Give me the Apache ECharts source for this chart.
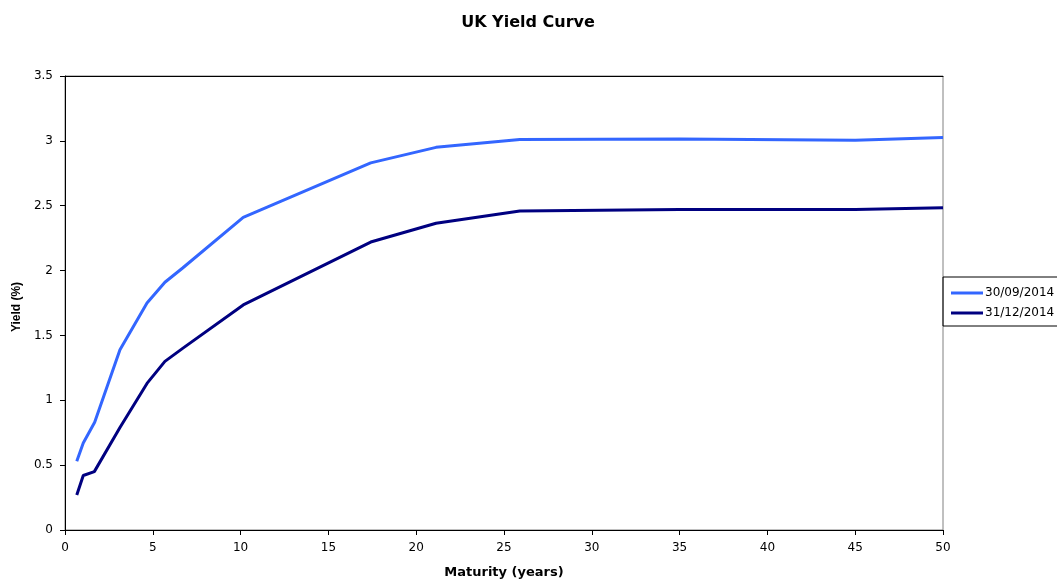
<!DOCTYPE html>
<html>
<head>
<meta charset="utf-8">
<script src="https://cdn.jsdelivr.net/npm/echarts@6/dist/echarts.min.js"></script>
<style>
  html, body { margin: 0; padding: 0; background: #fff; }
  #chart { width: 1057px; height: 581px; }
</style>
</head>
<body>
<div id="chart"></div>
<script>
// Maturities (years) and yields (%) for the two curve dates
const maturitySep = [0.67, 1.04, 1.69, 3.13, 4.67, 5.69, 6.7, 10.15, 17.41, 21.13, 25.9, 35, 45, 50];
const yieldSep    = [0.53, 0.67, 0.83, 1.39, 1.75, 1.91, 2.02, 2.41, 2.83, 2.95, 3.01, 3.015, 3.005, 3.025];

const maturityDec = [0.67, 1.04, 1.67, 3.13, 4.67, 5.69, 6.7, 10.15, 17.41, 21.13, 25.9, 35, 45, 50];
const yieldDec    = [0.27, 0.42, 0.45, 0.79, 1.13, 1.30, 1.40, 1.735, 2.22, 2.365, 2.46, 2.47, 2.47, 2.485];

const seriesNames = ['30/09/2014', '31/12/2014'];
const seriesColors = ['#3366FF', '#000080'];

const pairs = (xs, ys) => xs.map((x, i) => [x, ys[i]]);

const chart = echarts.init(document.getElementById('chart'));
const font = 'DejaVu Sans, Liberation Sans, Arial, sans-serif';
const narrowFont = 'Liberation Sans, Arial, sans-serif';

chart.setOption({
  animation: false,
  backgroundColor: '#fff',
  title: {
    text: 'UK Yield Curve',
    left: 523,
    textAlign: 'center',
    top: 10,
    textStyle: { fontFamily: font, fontSize: 16, fontWeight: 'bold', color: '#000' }
  },
  legend: {
    data: seriesNames,
    orient: 'vertical',
    left: 943,
    top: 277,
    icon: 'rect',
    itemWidth: 32,
    itemHeight: 3,
    itemGap: 8,
    padding: [10, 20, 7, 8],
    borderColor: '#000',
    borderWidth: 1,
    textStyle: { fontFamily: font, fontSize: 12, color: '#000', padding: [0, 0, 0, -3] }
  },
  grid: {
    left: 65, right: 114, top: 76, bottom: 51,
    outerBoundsMode: 'none',
    containLabel: false,
    show: true, borderColor: '#808080', borderWidth: 1
  },
  xAxis: [
    {
      type: 'value',
      min: 0, max: 50, interval: 5,
      name: 'Maturity (years)',
      nameLocation: 'middle',
      nameGap: 36,
      nameTextStyle: { fontFamily: font, fontSize: 13, fontWeight: 'bold', color: '#000' },
      axisLine: { show: true, lineStyle: { color: '#000', width: 1 } },
      axisTick: { show: true, length: 5, lineStyle: { color: '#000' } },
      axisLabel: { fontFamily: font, fontSize: 12, color: '#000', margin: 12 },
      splitLine: { show: false }
    },
    {
      // top frame edge of the plot area
      type: 'value',
      position: 'top',
      min: 0, max: 50,
      axisLine: { show: true, lineStyle: { color: '#000', width: 1 } },
      axisTick: { show: false },
      axisLabel: { show: false },
      splitLine: { show: false }
    }
  ],
  yAxis: {
    type: 'value',
    min: 0, max: 3.5, interval: 0.5,
    name: 'Yield (%)',
    nameLocation: 'middle',
    nameRotate: 90,
    nameGap: 42,
    nameTextStyle: {
      fontFamily: narrowFont, fontSize: 12, fontWeight: 'bold', color: '#000',
      padding: [0, 8, 0, 0]
    },
    axisLine: { show: true, lineStyle: { color: '#000', width: 1 } },
    axisTick: { show: true, length: 5, lineStyle: { color: '#000' } },
    axisLabel: { fontFamily: font, fontSize: 12, color: '#000', margin: 12 },
    splitLine: { show: false }
  },
  series: [
    {
      name: seriesNames[0],
      type: 'line',
      data: pairs(maturitySep, yieldSep),
      showSymbol: false,
      symbol: 'none',
      lineStyle: { color: seriesColors[0], width: 3 },
      itemStyle: { color: seriesColors[0] }
    },
    {
      name: seriesNames[1],
      type: 'line',
      data: pairs(maturityDec, yieldDec),
      showSymbol: false,
      symbol: 'none',
      lineStyle: { color: seriesColors[1], width: 3 },
      itemStyle: { color: seriesColors[1] }
    }
  ]
});
</script>
</body>
</html>
